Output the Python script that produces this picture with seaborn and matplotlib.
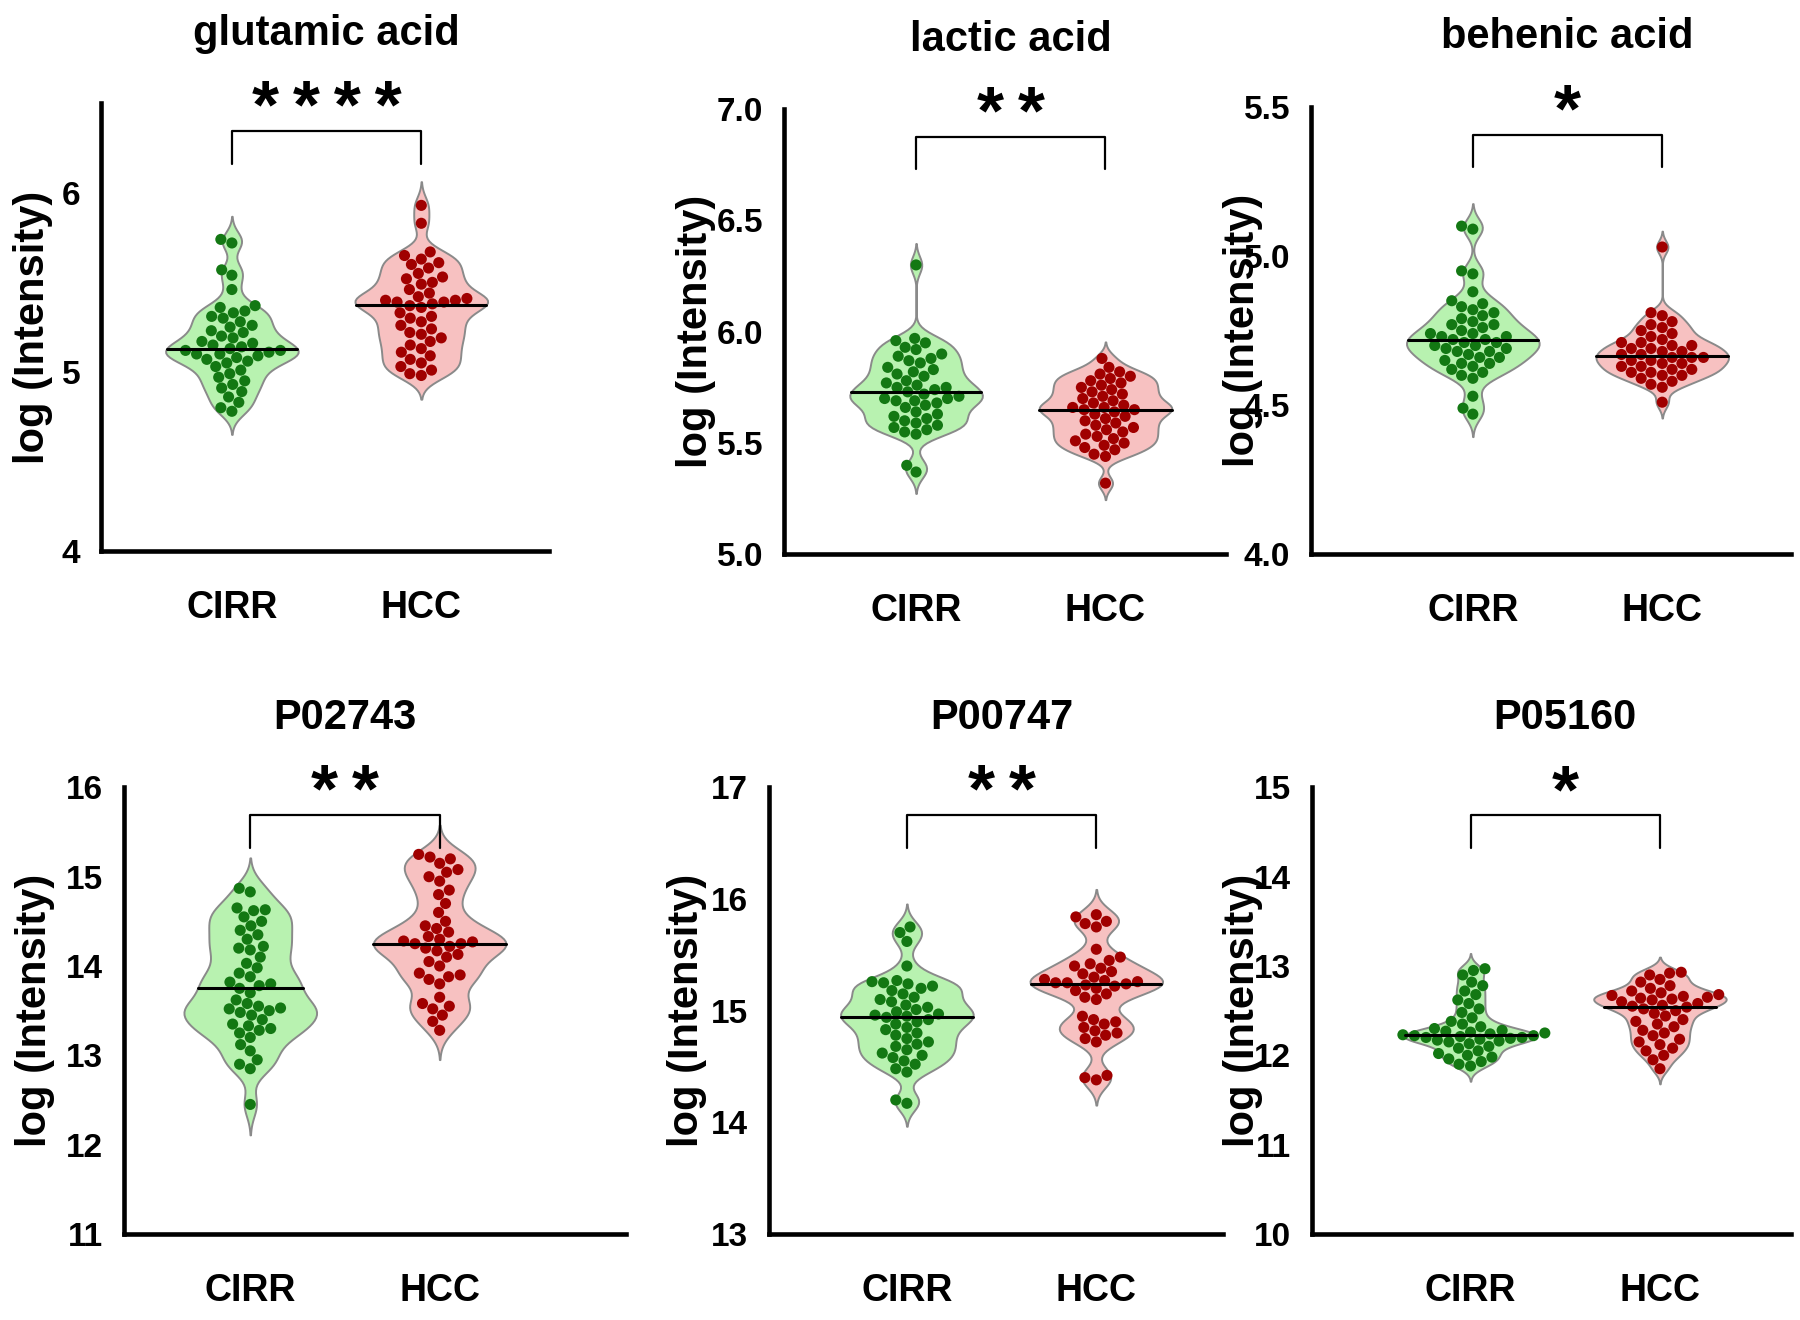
import matplotlib
matplotlib.use("Agg")
import matplotlib.pyplot as plt
import matplotlib.transforms as mtransforms
import numpy as np
import pandas as pd
import seaborn as sns

# ================= data =================
groups = ["CIRR", "HCC"]
titles = ["glutamic acid", "lactic acid", "behenic acid", "P02743", "P00747", "P05160"]
stars = ["****", "**", "*", "**", "**", "*"]

glut_cirr = [5.74, 5.72, 5.57, 5.54, 5.46, 5.37, 5.36, 5.34, 5.33, 5.31, 5.30, 5.28, 5.26, 5.25, 5.23,
             5.22, 5.20, 5.19, 5.17, 5.16, 5.15, 5.14, 5.13, 5.12, 5.12, 5.11, 5.10, 5.10, 5.09, 5.08,
             5.07, 5.06, 5.05, 5.03, 5.01, 4.99, 4.97, 4.95, 4.93, 4.91, 4.89, 4.86, 4.83, 4.80, 4.78]
glut_hcc = [5.93, 5.83, 5.67, 5.65, 5.63, 5.61, 5.60, 5.58, 5.55, 5.53, 5.52, 5.50, 5.49, 5.46, 5.44,
            5.42, 5.41, 5.40, 5.40, 5.39, 5.39, 5.38, 5.37, 5.36, 5.33, 5.31, 5.30, 5.28, 5.26, 5.24,
            5.22, 5.21, 5.19, 5.17, 5.15, 5.13, 5.11, 5.09, 5.07, 5.05, 5.03, 5.01, 4.99, 4.98]

lac_cirr = [6.30, 5.97, 5.96, 5.95, 5.93, 5.92, 5.90, 5.89, 5.88, 5.87, 5.86, 5.84, 5.83, 5.82, 5.81,
            5.80, 5.78, 5.77, 5.76, 5.75, 5.75, 5.74, 5.73, 5.72, 5.71, 5.70, 5.70, 5.69, 5.69, 5.68,
            5.67, 5.66, 5.64, 5.63, 5.62, 5.61, 5.60, 5.59, 5.58, 5.57, 5.56, 5.55, 5.54, 5.40, 5.37]
lac_hcc = [5.88, 5.84, 5.82, 5.81, 5.80, 5.79, 5.78, 5.77, 5.76, 5.75, 5.74, 5.73, 5.72, 5.71, 5.70,
           5.69, 5.68, 5.67, 5.66, 5.66, 5.65, 5.65, 5.64, 5.63, 5.62, 5.61, 5.60, 5.59, 5.58, 5.57,
           5.56, 5.55, 5.54, 5.53, 5.52, 5.51, 5.50, 5.49, 5.48, 5.47, 5.45, 5.44, 5.32]

beh_cirr = [5.10, 5.09, 4.95, 4.94, 4.88, 4.85, 4.84, 4.83, 4.82, 4.81, 4.80, 4.79, 4.78, 4.77, 4.77,
            4.76, 4.75, 4.74, 4.74, 4.73, 4.73, 4.72, 4.72, 4.71, 4.71, 4.70, 4.70, 4.69, 4.69, 4.68,
            4.68, 4.67, 4.66, 4.66, 4.65, 4.64, 4.64, 4.63, 4.62, 4.61, 4.60, 4.59, 4.53, 4.49, 4.47]
beh_hcc = [5.03, 4.81, 4.80, 4.78, 4.77, 4.76, 4.75, 4.74, 4.73, 4.72, 4.71, 4.71, 4.70, 4.70, 4.69,
           4.69, 4.68, 4.68, 4.67, 4.67, 4.66, 4.66, 4.66, 4.65, 4.65, 4.64, 4.64, 4.63, 4.63, 4.62,
           4.62, 4.61, 4.61, 4.60, 4.60, 4.59, 4.58, 4.57, 4.56, 4.51]

p02743_cirr = [14.87, 14.83, 14.65, 14.63, 14.62, 14.55, 14.50, 14.45, 14.40, 14.35, 14.30, 14.22, 14.20,
               14.18, 14.10, 14.03, 13.98, 13.92, 13.88, 13.82, 13.80, 13.78, 13.75, 13.70, 13.62, 13.58,
               13.55, 13.53, 13.52, 13.50, 13.48, 13.45, 13.40, 13.35, 13.33, 13.30, 13.28, 13.25, 13.20,
               13.12, 13.05, 12.95, 12.90, 12.85, 12.45]
p02743_hcc = [15.25, 15.22, 15.20, 15.15, 15.08, 15.05, 15.00, 14.95, 14.85, 14.80, 14.70, 14.60, 14.50,
              14.45, 14.42, 14.38, 14.33, 14.30, 14.28, 14.27, 14.25, 14.25, 14.22, 14.20, 14.17, 14.13,
              14.10, 14.05, 14.00, 13.92, 13.90, 13.88, 13.85, 13.80, 13.65, 13.58, 13.55, 13.52, 13.45,
              13.38, 13.28]

p00747_cirr = [15.75, 15.70, 15.62, 15.40, 15.27, 15.26, 15.25, 15.24, 15.22, 15.20, 15.18, 15.15, 15.12,
               15.10, 15.08, 15.05, 15.03, 15.01, 14.99, 14.97, 14.96, 14.95, 14.94, 14.92, 14.90, 14.88,
               14.85, 14.83, 14.80, 14.78, 14.75, 14.72, 14.70, 14.68, 14.65, 14.62, 14.60, 14.58, 14.55,
               14.52, 14.48, 14.45, 14.20, 14.17]
p00747_hcc = [15.86, 15.84, 15.80, 15.78, 15.75, 15.55, 15.48, 15.45, 15.42, 15.40, 15.38, 15.35, 15.33,
              15.30, 15.28, 15.27, 15.26, 15.25, 15.25, 15.24, 15.23, 15.22, 15.20, 15.18, 15.15, 15.12,
              15.10, 14.95, 14.92, 14.90, 14.88, 14.85, 14.82, 14.80, 14.78, 14.75, 14.72, 14.42, 14.40,
              14.38]

p05160_cirr = [12.97, 12.95, 12.90, 12.82, 12.78, 12.72, 12.68, 12.62, 12.58, 12.52, 12.48, 12.42, 12.38,
               12.35, 12.32, 12.30, 12.28, 12.27, 12.26, 12.25, 12.24, 12.23, 12.22, 12.22, 12.21, 12.20,
               12.20, 12.19, 12.18, 12.17, 12.16, 12.15, 12.13, 12.10, 12.08, 12.05, 12.02, 12.00, 11.98,
               11.96, 11.93, 11.90, 11.88]
p05160_hcc = [12.93, 12.92, 12.90, 12.85, 12.82, 12.78, 12.75, 12.72, 12.70, 12.68, 12.67, 12.66, 12.65,
              12.64, 12.63, 12.62, 12.60, 12.58, 12.56, 12.55, 12.54, 12.52, 12.50, 12.47, 12.44, 12.40,
              12.38, 12.35, 12.32, 12.28, 12.25, 12.22, 12.18, 12.15, 12.12, 12.08, 12.05, 12.00, 11.95,
              11.85]

panel_data = [(glut_cirr, glut_hcc), (lac_cirr, lac_hcc), (beh_cirr, beh_hcc),
              (p02743_cirr, p02743_hcc), (p00747_cirr, p00747_hcc), (p05160_cirr, p05160_hcc)]

y_limits = [(4, 6.5), (5, 7), (4, 5.5), (11, 16), (13, 17), (10, 15)]
y_ticks = [[4, 5, 6], [5.0, 5.5, 6.0, 6.5, 7.0], [4.0, 4.5, 5.0, 5.5],
           [11, 12, 13, 14, 15, 16], [13, 14, 15, 16, 17], [10, 11, 12, 13, 14, 15]]
y_ticklabels = [["4", "5", "6"], ["5.0", "5.5", "6.0", "6.5", "7.0"], ["4.0", "4.5", "5.0", "5.5"],
                ["11", "12", "13", "14", "15", "16"], ["13", "14", "15", "16", "17"],
                ["10", "11", "12", "13", "14", "15"]]

# ================= layout (reference pixels, 1568x1150 view) =================
W, H = 1568.0, 1150.0
# spine x, axis end x, CIRR x, top y, bottom y, ylabel right edge x
layout = [
    (88, 478, 202, 90, 480, 46),
    (683, 1068, 798, 95, 483, 624),
    (1142, 1560, 1283, 93, 483, 1100),
    (108, 545, 218, 686, 1075, 48),
    (670, 1065, 790, 686, 1075, 616),
    (1143, 1560, 1281, 686, 1075, 1100),
]
GAP = 165.0  # px between CIRR and HCC

palette_fill = {"CIRR": "#b8f2b0", "HCC": "#f7c1c1"}
palette_dots = {"CIRR": "#137813", "HCC": "#a00000"}

sns.set_theme(style="white")
plt.rcParams["font.family"] = ["Liberation Sans", "DejaVu Sans"]
plt.rcParams["font.weight"] = "bold"
plt.rcParams["axes.labelweight"] = "bold"
plt.rcParams["text.color"] = "black"
plt.rcParams["axes.labelcolor"] = "black"
plt.rcParams["xtick.color"] = "black"
plt.rcParams["ytick.color"] = "black"

fig = plt.figure(figsize=(18, 13.2), dpi=100)

for i in range(6):
    sx, ex, cx, ty, by, lx = layout[i]
    ax = fig.add_axes([sx / W, 1 - by / H, (ex - sx) / W, (by - ty) / H])
    cirr, hcc = panel_data[i]
    df = pd.DataFrame({
        "group": ["CIRR"] * len(cirr) + ["HCC"] * len(hcc),
        "value": list(cirr) + list(hcc),
    })

    sns.violinplot(data=df, x="group", y="value", hue="group", order=groups, hue_order=groups,
                   palette=palette_fill, saturation=1, linecolor="#8a8a8a", linewidth=1.4,
                   bw_adjust=0.5, cut=2.5, width=0.7, density_norm="width",
                   inner="quart", inner_kws=dict(color="black", linewidth=2.2),
                   legend=False, ax=ax)
    # quartile lines come in threes (25/50/75) per violin: keep only the median
    for j, ln in enumerate(ax.lines):
        if j % 3 == 1:
            ln.set_linestyle("-")
            ln.set_color("black")
            ln.set_zorder(4)
        else:
            ln.set_visible(False)

    sns.swarmplot(data=df, x="group", y="value", hue="group", order=groups, hue_order=groups,
                  palette=palette_dots, size=8, legend=False, ax=ax, zorder=3)

    ax.set_xlim((sx - cx) / GAP, (ex - cx) / GAP)
    ax.set_ylim(*y_limits[i])
    ax.set_yticks(y_ticks[i])
    ax.set_yticklabels(y_ticklabels[i], fontsize=24, fontweight="bold")
    ax.set_xticks([0, 1])
    ax.set_xticklabels(groups, fontsize=27, fontweight="bold")
    ax.set_xlabel("")
    ax.set_ylabel("log (Intensity)", fontsize=30, fontweight="bold")
    ax.yaxis.set_label_coords((lx - sx) / (ex - sx), 0.5)

    for side in ["top", "right"]:
        ax.spines[side].set_visible(False)
    for side in ["left", "bottom"]:
        ax.spines[side].set_linewidth(3.3)
        ax.spines[side].set_color("black")
    ax.tick_params(axis="y", direction="out", length=12, width=3.3, pad=3)
    ax.tick_params(axis="x", direction="out", length=18, width=3.3, pad=10)
    ax.set_facecolor("white")

    # significance bracket
    trans = mtransforms.blended_transform_factory(ax.transData, ax.transAxes)
    ax.plot([0, 0, 1, 1], [0.865, 0.938, 0.938, 0.865], color="black", lw=1.6,
            transform=trans, clip_on=False)
    ax.text(0.5, 0.945, "\u2009".join(stars[i]), transform=trans, ha="center", va="baseline",
            fontsize=50, fontweight="bold")
    ax.text(0.5, 1.155, titles[i], transform=trans, ha="center", va="center",
            fontsize=30, fontweight="bold")

fig.savefig("out.png", dpi=100, facecolor="white")
